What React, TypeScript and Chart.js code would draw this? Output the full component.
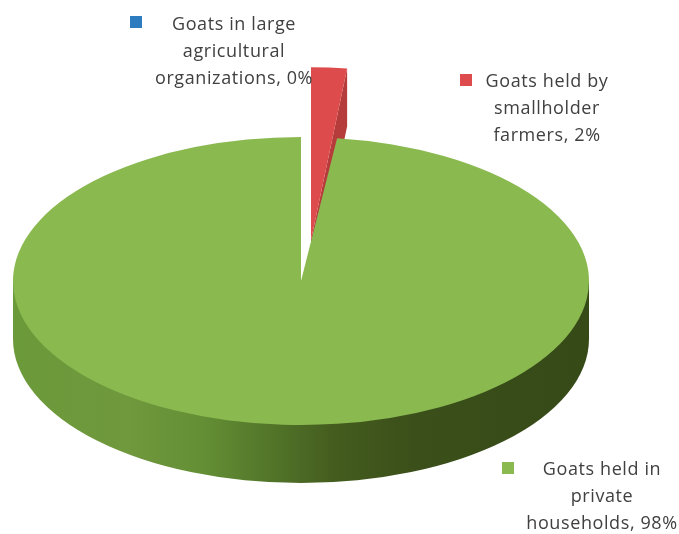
import React, { useEffect, useRef } from "react";
import { Chart, registerables, PieController } from "chart.js";

// Share of the goat population by type of holding, in percent.
const categories = [
  "Goats in large agricultural organizations",
  "Goats held by smallholder farmers",
  "Goats held in private households",
];
const shares = [0, 2, 98];
const sliceColors = ["#2e7cc0", "#de4b4c", "#8ab950"];
const labelLines = [
  ["Goats in large", "agricultural", "organizations, 0%"],
  ["Goats held by", "smallholder", "farmers, 2%"],
  ["Goats held in", "private", "households, 98%"],
];

// Callout placement: text centre, first baseline, swatch corner.
const calloutLayout = [
  { cx: 234, y: 30, sx: 130, sy: 16 },
  { cx: 547, y: 87, sx: 460, sy: 74 },
  { cx: 602, y: 475, sx: 502, sy: 462 },
];

const TILT = 0.5;
const DEPTH = 58;
const EXPLODED = 1;
const EXPLODE_DX = 10;
const EXPLODE_DY = -41;
const EXPLODE_STRETCH = 1.2;
const CUT_FACE = "#b63c3b";
const WALL_STOPS: [number, string][] = [
  [0, "#6b9a3a"],
  [0.2, "#70983d"],
  [0.33, "#648f35"],
  [0.47, "#4f7027"],
  [0.56, "#445c1e"],
  [0.7, "#3b4f1a"],
  [1, "#364a18"],
];

// Pie drawn as a tilted disc with a side wall and one slice pulled out.
class TiltedPieController extends PieController {
  static id = "tiltedPie";

  draw() {
    const ctx: CanvasRenderingContext2D = this.chart.ctx;
    const arcs: any[] = this._cachedMeta.data;
    const base = arcs[arcs.length - 1];
    const { x, y, outerRadius: r } = base;

    // Outer wall of the disc, shaded from left to right.
    const wall = ctx.createLinearGradient(x - r, 0, x + r, 0);
    WALL_STOPS.forEach(([at, color]) => wall.addColorStop(at, color));
    ctx.save();
    ctx.fillStyle = wall;
    ctx.beginPath();
    ctx.moveTo(x - r, y);
    ctx.lineTo(x - r, y + DEPTH);
    ctx.ellipse(x, y + DEPTH, r, r * TILT, 0, Math.PI, 0, true);
    ctx.lineTo(x + r, y);
    ctx.closePath();
    ctx.fill();
    ctx.restore();

    // Cut face of the pulled-out slice; the disc covers its lower part.
    const out = arcs[EXPLODED];
    const tipX = out.x + EXPLODE_DX;
    const tipY = out.y + EXPLODE_DY;
    const edgeX = tipX + Math.cos(out.endAngle) * out.outerRadius;
    const edgeY = tipY + Math.sin(out.endAngle) * out.outerRadius * TILT * EXPLODE_STRETCH;
    ctx.save();
    ctx.fillStyle = CUT_FACE;
    ctx.beginPath();
    ctx.moveTo(tipX, tipY);
    ctx.lineTo(edgeX, edgeY);
    ctx.lineTo(edgeX, edgeY + DEPTH);
    ctx.lineTo(tipX, tipY + DEPTH);
    ctx.closePath();
    ctx.fill();
    ctx.restore();

    // Top faces: the flattened disc first, then the raised slice over it.
    const drawFace = (arc: any, dx: number, dy: number, ky: number) => {
      ctx.save();
      ctx.translate(arc.x + dx, arc.y + dy);
      ctx.scale(1, ky);
      ctx.translate(-arc.x, -arc.y);
      arc.draw(ctx);
      ctx.restore();
    };
    arcs.forEach((arc, i) => {
      if (i !== EXPLODED) drawFace(arc, 0, 0, TILT);
    });
    drawFace(out, EXPLODE_DX, EXPLODE_DY, TILT * EXPLODE_STRETCH);
  }
}

Chart.register(...registerables, TiltedPieController);

// Swatch and centred multi-line text beside each slice.
const calloutPlugin = {
  id: "callouts",
  afterDraw(chart: any) {
    const { ctx } = chart;
    ctx.save();
    ctx.font = '18px "Open Sans", sans-serif';
    ctx.letterSpacing = "0.6px";
    ctx.textAlign = "center";
    ctx.textBaseline = "alphabetic";
    calloutLayout.forEach((spot, i) => {
      ctx.fillStyle = sliceColors[i];
      ctx.fillRect(spot.sx, spot.sy, 12, 12);
      ctx.fillStyle = "#404040";
      labelLines[i].forEach((line, j) => {
        ctx.fillText(line, spot.cx, spot.y + j * 27);
      });
    });
    ctx.restore();
  },
};

export default function App() {
  const canvasRef = useRef<HTMLCanvasElement>(null);

  useEffect(() => {
    const chart = new Chart(canvasRef.current!, {
      type: "tiltedPie" as any,
      data: {
        labels: categories,
        datasets: [
          {
            data: shares,
            backgroundColor: sliceColors,
            borderWidth: 0,
          },
        ],
      },
      options: {
        animation: false,
        responsive: false,
        maintainAspectRatio: false,
        radius: 288,
        layout: { padding: { right: 77, top: 28 } },
        plugins: { legend: { display: false }, tooltip: { enabled: false } },
      } as any,
      plugins: [calloutPlugin],
    });
    return () => chart.destroy();
  }, []);

  return (
    <div style={{ position: "fixed", left: 0, top: 0, background: "#fff" }}>
      <canvas ref={canvasRef} width={679} height={534} style={{ display: "block" }} />
    </div>
  );
}
